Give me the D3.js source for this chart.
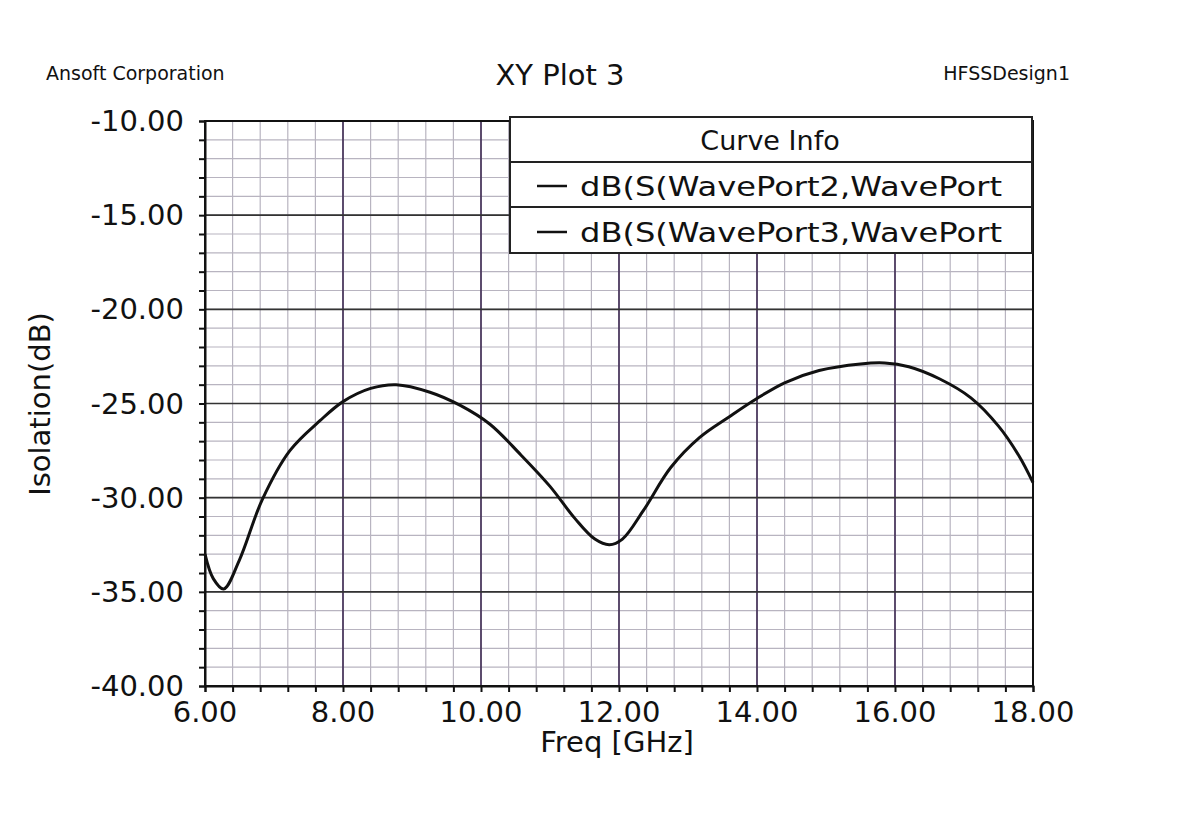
<!doctype html>
<html>
<head>
<meta charset="utf-8" />
<script src="https://cdn.jsdelivr.net/npm/d3@7"></script>
<style>
  body { margin: 0; background: #fff; }
  text { font-family: "DejaVu Sans", "Liberation Sans", Arial, sans-serif; fill: #111; }
</style>
</head>
<body>
<svg id="chart" width="1202" height="816"></svg>
<script>
// S-parameter curve
var freq = [6.0, 6.12, 6.27, 6.5, 6.83, 7.23, 7.67, 8.0, 8.4, 8.77, 9.26, 9.7, 10.13, 10.57, 11.0, 11.36, 11.65, 11.86, 12.05, 12.35, 12.75, 13.17, 13.6, 13.97, 14.4, 14.9, 15.5, 15.85, 16.2, 16.65, 17.1, 17.5, 17.8, 18.0];
var isolation = [-33.0, -34.3, -34.85, -33.3, -30.1, -27.5, -25.9, -24.9, -24.2, -24.0, -24.4, -25.1, -26.1, -27.7, -29.4, -31.1, -32.2, -32.5, -32.2, -30.7, -28.4, -26.8, -25.7, -24.8, -23.9, -23.25, -22.9, -22.85, -23.05, -23.7, -24.7, -26.2, -27.8, -29.2];
var xTicks = [6, 8, 10, 12, 14, 16, 18];
var yTicks = [-10, -15, -20, -25, -30, -35, -40];
var legendNames = ["dB(S(WavePort2,WavePort", "dB(S(WavePort3,WavePort"];

var svg = d3.select('#chart');
var x = d3.scaleLinear().domain([6, 18]).range([205, 1033]);
var y = d3.scaleLinear().domain([-40, -10]).range([686, 121]);

// minor grid
var xMinor = d3.range(6, 18.001, 0.4);
var yMinor = d3.range(-40, -9.999, 1);
svg.append('g').selectAll('line').data(xMinor).enter().append('line')
    .attr('x1', d => x(d)).attr('x2', d => x(d)).attr('y1', 121).attr('y2', 686)
    .style('stroke', '#b8b4c0').style('stroke-width', 1.2);
svg.append('g').selectAll('line').data(yMinor).enter().append('line')
    .attr('x1', 205).attr('x2', 1033).attr('y1', d => y(d)).attr('y2', d => y(d))
    .style('stroke', '#b8b4c0').style('stroke-width', 1.2);
// major grid
svg.append('g').selectAll('line').data(xTicks).enter().append('line')
    .attr('x1', d => x(d)).attr('x2', d => x(d)).attr('y1', 121).attr('y2', 686)
    .style('stroke', '#3e2a52').style('stroke-width', 1.6);
svg.append('g').selectAll('line').data(yTicks).enter().append('line')
    .attr('x1', 205).attr('x2', 1033).attr('y1', d => y(d)).attr('y2', d => y(d))
    .style('stroke', '#333').style('stroke-width', 1.6);

// axes
var xAxis = d3.axisBottom(x).tickValues(xMinor).tickSize(6).tickFormat('');
var yAxis = d3.axisLeft(y).tickValues(yMinor).tickSize(6).tickFormat('');
var gx = svg.append('g').attr('transform', 'translate(0,686)').call(xAxis);
var gy = svg.append('g').attr('transform', 'translate(205,0)').call(yAxis);
[gx, gy].forEach(function (g) {
    g.selectAll('path,line').style('stroke', '#111').style('stroke-width', 2);
});
svg.append('g').selectAll('text').data(xTicks).enter().append('text')
    .attr('x', d => x(d)).attr('y', 722).attr('text-anchor', 'middle')
    .style('font-size', '29px').text(d => d.toFixed(2));
svg.append('g').selectAll('text').data(yTicks).enter().append('text')
    .attr('x', 184).attr('y', d => y(d) + 10).attr('text-anchor', 'end')
    .style('font-size', '29px').text(d => d.toFixed(2));

// curve
var line = d3.line().x((d, i) => x(freq[i])).y(d => y(d)).curve(d3.curveCatmullRom.alpha(0.5));
svg.append('path').datum(isolation).attr('d', line)
    .style('fill', 'none').style('stroke', '#111').style('stroke-width', 3);

// frame
svg.append('rect').attr('x', 205).attr('y', 121).attr('width', 828).attr('height', 565)
    .style('fill', 'none').style('stroke', '#111').style('stroke-width', 2);

// legend
var lg = svg.append('g');
lg.append('rect').attr('x', 510).attr('y', 117).attr('width', 522).attr('height', 136)
    .style('fill', '#fff').style('stroke', '#222').style('stroke-width', 2);
lg.selectAll('line.sep').data([162, 207]).enter().append('line')
    .attr('x1', 510).attr('x2', 1032).attr('y1', d => d).attr('y2', d => d)
    .style('stroke', '#222').style('stroke-width', 2);
lg.append('text').attr('x', 770).attr('y', 150).attr('text-anchor', 'middle')
    .style('font-size', '27px').text('Curve Info');
legendNames.forEach(function (n, i) {
    var cy = 186 + i * 46;
    lg.append('line').attr('x1', 537).attr('x2', 567).attr('y1', cy).attr('y2', cy)
        .style('stroke', '#111').style('stroke-width', 2.5);
    lg.append('text').attr('x', 580).attr('y', cy + 10).style('font-size', '27px')
        .attr('textLength', 422).attr('lengthAdjust', 'spacingAndGlyphs').text(n);
});

// titles
svg.append('text').attr('x', 560).attr('y', 85).attr('text-anchor', 'middle')
    .style('font-size', '29px').text('XY Plot 3');
svg.append('text').attr('x', 46).attr('y', 80).style('font-size', '19px').text('Ansoft Corporation');
svg.append('text').attr('x', 1070).attr('y', 80).attr('text-anchor', 'end')
    .style('font-size', '19px').text('HFSSDesign1');
svg.append('text').attr('x', 617).attr('y', 752).attr('text-anchor', 'middle')
    .style('font-size', '29px').text('Freq [GHz]');
svg.append('text').attr('transform', 'translate(50,404) rotate(-90)').attr('text-anchor', 'middle')
    .style('font-size', '29px').text('Isolation(dB)');
</script>
</body>
</html>
